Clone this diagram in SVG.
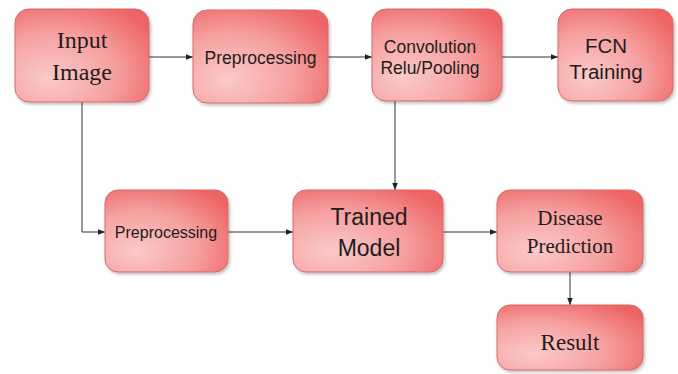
<svg xmlns="http://www.w3.org/2000/svg" width="678" height="374" viewBox="0 0 678 374">
  <defs>
    <radialGradient id="boxFill" cx="0.3" cy="0.7" r="0.85" fx="0.25" fy="0.75">
      <stop offset="0" stop-color="#fbcaca"/>
      <stop offset="0.55" stop-color="#f6a0a0"/>
      <stop offset="1" stop-color="#ee6464"/>
    </radialGradient>
    <filter id="shadow" x="-10%" y="-10%" width="125%" height="130%">
      <feDropShadow dx="1.5" dy="2" stdDeviation="1.5" flood-color="#000" flood-opacity="0.25"/>
    </filter>
    <marker id="arrow" viewBox="0 0 8 8" refX="8" refY="4" markerWidth="7" markerHeight="7" markerUnits="userSpaceOnUse" orient="auto">
      <path d="M0,0.8 L8,4 L0,7.2 Z" fill="#222"/>
    </marker>
  </defs>
  <style>
    .box { fill: url(#boxFill); stroke: #d46a6a; stroke-width: 1; filter: url(#shadow); }
    .sans { font-family: "Liberation Sans", Arial, sans-serif; fill: #231c1c; text-anchor: middle; }
    .serif { font-family: "Liberation Serif", "Times New Roman", serif; fill: #231c1c; text-anchor: middle; }
    .edge { fill: none; stroke: #333; stroke-width: 1; marker-end: url(#arrow); }
  </style>
  <rect width="678" height="374" fill="#ffffff"/>

  <g id="connectors">
    <path class="edge" d="M149,57 H193"/>
    <path class="edge" d="M328,57 H372"/>
    <path class="edge" d="M502,57 H558"/>
    <path class="edge" d="M82,102 V232 H105"/>
    <path class="edge" d="M395,101 V190"/>
    <path class="edge" d="M228,232 H293"/>
    <path class="edge" d="M443,232 H497"/>
    <path class="edge" d="M570,272 V305"/>
  </g>

  <g id="input-image">
    <rect class="box" x="15" y="9" width="134" height="93" rx="14"/>
    <text class="serif" font-size="24" x="82" y="48">Input</text>
    <text class="serif" font-size="24" x="82" y="80">Image</text>
  </g>

  <g id="preprocessing-top">
    <rect class="box" x="193" y="10" width="135" height="93" rx="14"/>
    <text class="sans" font-size="17.5" x="260.5" y="64">Preprocessing</text>
  </g>

  <g id="convolution">
    <rect class="box" x="372" y="9" width="130" height="92" rx="14"/>
    <text class="sans" font-size="17.5" x="430" y="53">Convolution</text>
    <text class="sans" font-size="17.5" x="430" y="74">Relu/Pooling</text>
  </g>

  <g id="fcn-training">
    <rect class="box" x="558" y="9" width="115" height="92" rx="14"/>
    <text class="sans" font-size="20.5" x="606" y="53">FCN</text>
    <text class="sans" font-size="20.5" x="606" y="79">Training</text>
  </g>

  <g id="preprocessing-bottom">
    <rect class="box" x="105" y="190" width="123" height="82" rx="13"/>
    <text class="sans" font-size="16" x="166" y="238">Preprocessing</text>
  </g>

  <g id="trained-model">
    <rect class="box" x="293" y="190" width="150" height="82" rx="13"/>
    <text class="sans" font-size="23" x="369" y="225">Trained</text>
    <text class="sans" font-size="23" x="369" y="256">Model</text>
  </g>

  <g id="disease-prediction">
    <rect class="box" x="497" y="190" width="146" height="82" rx="13"/>
    <text class="serif" font-size="21" x="570" y="225">Disease</text>
    <text class="serif" font-size="21" x="570" y="253">Prediction</text>
  </g>

  <g id="result">
    <rect class="box" x="497" y="305" width="146" height="65" rx="13"/>
    <text class="serif" font-size="23" x="570" y="350">Result</text>
  </g>
</svg>
